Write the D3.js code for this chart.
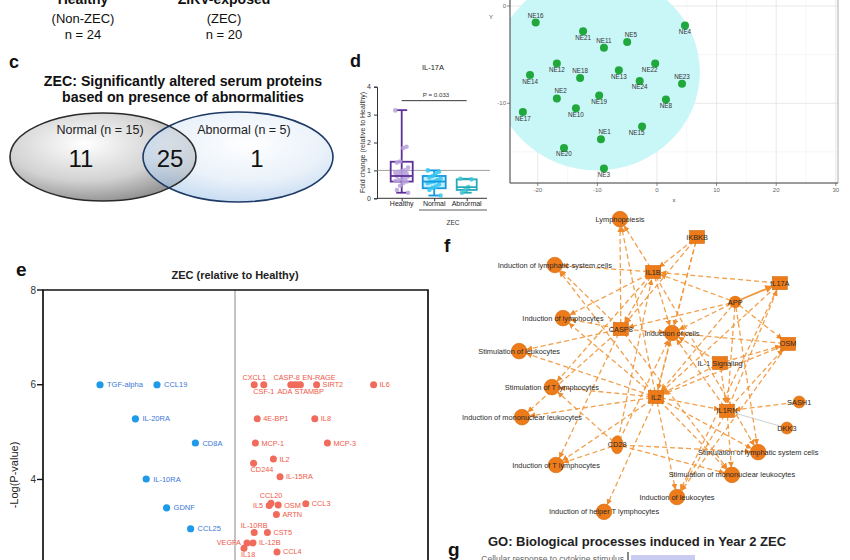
<!DOCTYPE html>
<html><head><meta charset="utf-8">
<script src="https://cdn.jsdelivr.net/npm/d3@7"></script>
<style>body{margin:0;background:#fff} svg{display:block;font-family:"Liberation Sans",Arial,sans-serif}</style>
</head><body><svg id="c" width="850" height="560"></svg>
<script>
// ---------- DATA ----------
// header groups
const groupNames = ["Healthy","ZIKV-exposed"];
const groupSub = ["(Non-ZEC)","(ZEC)"];
const groupN = [24,20];
// Venn (panel c)
const vennSets = ["Normal","Abnormal"];
const vennSetN = [15,5];
const vennCounts = [11,25,1]; // only-normal, both, only-abnormal
// Box plot (panel d) IL-17A
const boxGroups = ["Healthy","Normal","Abnormal"];
const boxStats = [[0.2,0.6,0.8,1.31,3.16],[0.1,0.36,0.6,0.8,1.0],[0.2,0.3,0.4,0.68,0.7]];
const healthyPts = [3.15,1.85,1.8,1.32,1.28,1.1,1.0,0.98,0.95,0.92,0.9,0.88,0.85,0.8,0.78,0.72,0.68,0.65,0.62,0.6,0.55,0.45,0.3,0.2];
const normalPts = [1.0,0.95,0.88,0.8,0.75,0.7,0.65,0.6,0.58,0.55,0.5,0.42,0.38,0.3,0.1];
const abnormalPts = [0.7,0.68,0.4,0.3,0.2];
const boxYTicks = [0,1,2,3,4];
const pValueText = "P = 0.033";
const pValueY = 3.5;
// PCA scatter
const pcaLabels = ["NE16","NE21","NE11","NE5","NE4","NE12","NE13","NE22","NE14","NE18","NE24","NE23","NE2","NE19","NE8","NE17","NE10","NE15","NE1","NE20","NE3"];
const pcaX = [-20.35,-12.4,-8.9,-5.0,4.7,-16.8,-6.4,-0.3,-21.3,-12.9,-2.9,4.2,-16.8,-9.7,1.5,-22.5,-13.6,-2.5,-9.4,-15.6,-8.9];
const pcaY = [-1.7,-2.6,-4.3,-3.7,-2.0,-5.9,-6.6,-5.9,-7.1,-7.4,-7.7,-8.0,-9.5,-9.2,-9.6,-10.9,-10.5,-12.4,-13.7,-14.6,-16.7];
const pcaXTicks = [-20,-10,0,10,20,30];
const pcaYTicks = [0,-10];
const pcaEllipse = [-10.1,-6.8,17.3,10.1]; // cx, cy, rx, ry (data units)
// Volcano (panel e)
const downGenes = ["TGF-alpha","CCL19","IL-20RA","CD8A","IL-10RA","GDNF","CCL25"];
const downFC = [-2.25,-1.30,-1.66,-0.66,-1.48,-1.14,-0.74];
const downLogP = [6.0,6.0,5.28,4.77,4.01,3.40,2.96];
const upGenes = ["CXCL1","CSF-1","CASP-8","ADA","STAMBP","EN-RAGE","SIRT2","IL6","4E-BP1","IL8","MCP-1","MCP-3","IL2","CD244","IL-15RA","CCL20","IL5","OSM","CCL3","ARTN","IL-10RB","CST5","VEGFA","IL-12B","IL18","CCL4"];
const upFC = [0.32,0.48,0.93,0.99,1.04,1.09,1.36,2.31,0.37,1.33,0.34,1.54,0.64,0.31,0.75,0.60,0.57,0.72,1.18,0.69,0.32,0.54,0.20,0.30,0.15,0.70];
const upLogP = [6.0,6.0,6.0,6.0,6.0,6.0,6.0,6.0,5.28,5.28,4.77,4.77,4.43,4.34,4.06,3.50,3.45,3.46,3.49,3.26,2.88,2.88,2.66,2.66,2.55,2.47];
const volcanoYTicks = [8,6,4];
// Network (panel f) — layout coordinates in a 0..100 space
const netIds = ["LP","IKBKB","ILSC","IL1B","IL17A","APP","IOL","CASP8","IOC","OSM","SOL","IL1S","STL","IL2","SASH1","IL1RN","IML","DKK3","CD28","SLSC","ITL","SML","IOLk","IHTL"];
const netLabels = ["Lymphopoiesis","IKBKB","Induction of lymphatic-system cells","IL1B","IL17A","APP","Induction of lymphocytes","CASP8","Induction of cells","OSM","Stimulation of leukocytes","IL-1 Signaling","Stimulation of T lymphocytes","IL2","SASH1","IL1RN","Induction of mononuclear leukocytes","DKK3","CD28","Stimulation of lymphatic system cells","Induction of T lymphocytes","Stimulation of mononuclear leukocytes","Induction of leukocytes","Induction of helper T lymphocytes"];
const netKind = ["f","p","f","p","p","h","f","p","f","p","f","p","f","p","c","p","f","c","e","f","f","f","f","f"];
const netX = [43.9,62.7,28.0,52.0,82.9,72.0,30.0,44.1,56.6,84.9,19.3,68.3,27.3,52.7,87.6,70.0,20.0,84.6,43.2,77.6,28.3,71.2,57.8,40.0];
const netY = [5.8,11.2,19.7,21.8,25.2,30.9,35.8,39.1,40.3,43.6,45.8,49.4,56.7,59.7,61.2,63.9,65.8,69.1,74.2,76.4,80.3,83.3,90.0,94.5];
const netEdges = [["IL1B","LP"],["IL1B","ILSC"],["IL1B","IOL"],["IL1B","IOC"],["IL1B","STL"],["IL1B","SLSC"],["IL1B","CASP8"],
["IKBKB","IL1B"],["IKBKB","IOC"],["IKBKB","IL2"],["IKBKB","CASP8"],
["IL17A","IL1B"],["IL17A","IL2"],["IL17A","IOLk"],
["APP","IL1B"],["APP","OSM"],["APP","CASP8"],["APP","IOC"],["APP","IL2"],["APP","IL1RN"],["APP","SLSC"],
["CASP8","LP"],["CASP8","ILSC"],["CASP8","IOL"],["CASP8","SOL"],["CASP8","IOC"],["CASP8","ITL"],["CASP8","IML"],["CASP8","SML"],
["IL2","LP"],["IL2","ILSC"],["IL2","STL"],["IL2","IML"],["IL2","ITL"],["IL2","IOC"],["IL2","IOLk"],["IL2","SLSC"],["IL2","SML"],["IL2","IHTL"],["IL2","IL1RN"],["IL2","SOL"],["IL2","IOL"],
["IL1S","IOC"],["IL1S","IL2"],["IL1S","OSM"],["IL1S","IL1RN"],
["IL1RN","IOC"],["IL1RN","IL17A"],["IL1RN","SML"],["IL1RN","IOLk"],["IL1RN","OSM"],
["SASH1","IL1RN"],
["CD28","ITL"],["CD28","STL"],["CD28","SML"],["CD28","IL1B"],["CD28","IOC"],["CD28","SLSC"],
["OSM","IOC"],["OSM","IL2"],["OSM","IOLk"]];
const netSolidEdges = [["APP","IL17A"]];
const netPlainEdges = [["DKK3","IL1RN"]];
// GO (panel g)
const goTerms = ["Cellular response to cytokine stimulus"];
const goValues = [3.2];

// ---------- HELPERS ----------
const svg = d3.select("#c");
const FONT = '"Liberation Sans",Arial,sans-serif';
function txt(g, x, y, s, size, opt={}) {
  return g.append("text").attr("x",x).attr("y",y).text(s)
    .attr("font-size",size).attr("font-weight",opt.bold?"bold":"normal")
    .attr("text-anchor",opt.anchor||"middle").attr("fill",opt.fill||"#111");
}
function place(code){
  return ({r:[6,2.5,"start"],l:[-6,2.5,"end"],t:[0,-5,"middle"],b:[0,9,"middle"],
    tr:[-3,-5,"start"],tl:[3,-5,"end"],br:[-3,9,"start"],bl:[3,9,"end"],
    tL:[9,-5,"end"],tR:[2,-5,"start"],bL:[-2,9,"end"],bR:[-3,9,"start"]})[code];
}
const defs = svg.append("defs");

// ---------- HEADER ----------
const hdr = svg.append("g");
const hdrX = d3.scalePoint().domain(groupNames).range([83,224]);
groupNames.forEach((g,i)=>{
  txt(hdr,hdrX(g),4,g,14,{bold:true});
  txt(hdr,hdrX(g),23,groupSub[i],13);
  txt(hdr,hdrX(g),39,"n = "+groupN[i],13);
});

// ---------- PANEL C: VENN ----------
const gc = svg.append("g");
txt(gc,9,68,"c",18,{bold:true,anchor:"start"});
txt(gc,183,86,"ZEC: Significantly altered serum proteins",14.2,{bold:true});
txt(gc,183,102,"based on presence of abnormalities",14.2,{bold:true});
const g1 = defs.append("radialGradient").attr("id","gGrey").attr("cx","40%").attr("cy","35%").attr("r","70%");
g1.append("stop").attr("offset","0%").attr("stop-color","#ffffff");
g1.append("stop").attr("offset","60%").attr("stop-color","#d2d2d2");
g1.append("stop").attr("offset","100%").attr("stop-color","#8c8c8c");
const g2 = defs.append("radialGradient").attr("id","gBlue").attr("cx","55%").attr("cy","35%").attr("r","70%");
g2.append("stop").attr("offset","0%").attr("stop-color","#ffffff");
g2.append("stop").attr("offset","60%").attr("stop-color","#dbe8f6");
g2.append("stop").attr("offset","100%").attr("stop-color","#9ec2e8");
const vennX = d3.scaleLinear().domain([0,1]).range([103,238]);
const ell = [{cx:vennX(0),rx:93,ry:44},{cx:vennX(1),rx:95,ry:45}];
gc.append("ellipse").attr("cx",ell[0].cx).attr("cy",157).attr("rx",ell[0].rx).attr("ry",ell[0].ry).attr("fill","url(#gGrey)");
gc.append("ellipse").attr("cx",ell[1].cx).attr("cy",157).attr("rx",ell[1].rx).attr("ry",ell[1].ry).attr("fill","url(#gBlue)").attr("fill-opacity",0.62);
gc.append("ellipse").attr("cx",ell[0].cx).attr("cy",157).attr("rx",ell[0].rx).attr("ry",ell[0].ry).attr("fill","none").attr("stroke","#2a2a2a").attr("stroke-width",1.6);
gc.append("ellipse").attr("cx",ell[1].cx).attr("cy",157).attr("rx",ell[1].rx).attr("ry",ell[1].ry).attr("fill","none").attr("stroke","#1e3a66").attr("stroke-width",1.6);
txt(gc,100,134,vennSets[0]+" (n = "+vennSetN[0]+")",12.5,{fill:"#222"});
txt(gc,244,134,vennSets[1]+" (n = "+vennSetN[1]+")",12.5,{fill:"#222"});
const numX = [81,170,257];
vennCounts.forEach((v,i)=>txt(gc,numX[i],167,v,24,{fill:"#111"}));

// ---------- PANEL D: BOX PLOT ----------
const gd = svg.append("g");
txt(gd,350,67,"d",18,{bold:true,anchor:"start"});
txt(gd,433,70,"IL-17A",7.5,{fill:"#222"});
const by = d3.scaleLinear().domain([0,4]).range([198.3,86.7]);
const bx = d3.scalePoint().domain(boxGroups).range([401.7,466.7]);
const yAx = gd.append("g").attr("transform","translate(377,0)").call(d3.axisLeft(by).tickValues(boxYTicks).tickSize(3).tickFormat(d3.format("d")));
yAx.selectAll("text").attr("font-size",7).attr("fill","#333").attr("font-family",FONT);
yAx.selectAll("path,line").attr("stroke","#333");
const xAx = gd.append("g").attr("transform","translate(0,198.3)").call(d3.axisBottom(bx).tickSize(3).tickFormat(""));
xAx.select("path").attr("d","M377,0H487").attr("stroke","#333");
xAx.selectAll("line").attr("stroke","#333");
boxGroups.forEach(g=>txt(gd,bx(g),206,g,7,{fill:"#222"}));
gd.append("line").attr("x1",419).attr("x2",487).attr("y1",210).attr("y2",210).attr("stroke","#333").attr("stroke-width",0.8);
txt(gd,453,225,"ZEC",6.5,{fill:"#333"});
gd.append("text").attr("transform","translate(365,"+by(2)+") rotate(-90)").attr("text-anchor","middle")
  .attr("font-size",7).attr("fill","#333").text("Fold change (relative to Healthy)");
gd.append("line").attr("x1",377).attr("x2",490).attr("y1",by(1)).attr("y2",by(1)).attr("stroke","#888").attr("stroke-width",0.8);
gd.append("line").attr("x1",bx("Healthy")).attr("x2",bx("Abnormal")).attr("y1",by(pValueY)).attr("y2",by(pValueY)).attr("stroke","#222").attr("stroke-width",0.9);
txt(gd,436,by(pValueY)-4,pValueText,6.2,{fill:"#333"});
const boxCol = [["#5e2f95","#b7a0dc","none"],["#1597df","#32c6f2","#c4eefb"],["#26a9ba","#45c4d2","#ffffff"]];
const boxW = [22,23,20];
const pts = [healthyPts,normalPts,abnormalPts];
boxGroups.forEach((g,i)=>{
  const s = boxStats[i], cx = bx(g), w = boxW[i], c = boxCol[i];
  const bg = gd.append("g");
  bg.append("line").attr("x1",cx).attr("x2",cx).attr("y1",by(s[0])).attr("y2",by(s[4])).attr("stroke",c[0]).attr("stroke-width",1.8);
  [s[0],s[4]].forEach(v=>bg.append("line").attr("x1",cx-w/4).attr("x2",cx+w/4).attr("y1",by(v)).attr("y2",by(v)).attr("stroke",c[0]).attr("stroke-width",1.8));
  bg.append("rect").attr("x",cx-w/2).attr("y",by(s[3])).attr("width",w).attr("height",by(s[1])-by(s[3])).attr("fill",c[2]).attr("stroke",c[0]).attr("stroke-width",1.8);
  bg.selectAll("circle.p").data(pts[i]).join("circle").attr("cx",(d,j)=>cx+((j*7)%9-4)*1.6).attr("cy",d=>by(d)).attr("r",2.3).attr("fill",c[1]).attr("fill-opacity",0.85);
  bg.append("line").attr("x1",cx-w/2).attr("x2",cx+w/2).attr("y1",by(s[2])).attr("y2",by(s[2])).attr("stroke",c[0]).attr("stroke-width",1.8);
});

// ---------- PCA ----------
const gp = svg.append("g");
const px = d3.scaleLinear().domain([-24.66,30.37]).range([510,838]);
const py = d3.scaleLinear().domain([-18.2,0.62]).range([183,0]);
defs.append("clipPath").attr("id","pcaClip").append("rect").attr("x",510).attr("y",0).attr("width",328).attr("height",183);
[-15,-5,5,15,25].forEach(v=>gp.append("line").attr("x1",px(v)).attr("x2",px(v)).attr("y1",0).attr("y2",183).attr("stroke","#f2f2f2").attr("stroke-width",0.6));
[-5,-15].forEach(v=>gp.append("line").attr("x1",510).attr("x2",838).attr("y1",py(v)).attr("y2",py(v)).attr("stroke","#f0f0f0").attr("stroke-width",0.6));
pcaXTicks.forEach(v=>gp.append("line").attr("x1",px(v)).attr("x2",px(v)).attr("y1",0).attr("y2",183).attr("stroke","#e2e2e2").attr("stroke-width",0.8));
pcaYTicks.forEach(v=>gp.append("line").attr("x1",510).attr("x2",838).attr("y1",py(v)).attr("y2",py(v)).attr("stroke","#e2e2e2").attr("stroke-width",0.8));
gp.append("ellipse").attr("clip-path","url(#pcaClip)").attr("cx",px(pcaEllipse[0])).attr("cy",py(pcaEllipse[1]))
  .attr("rx",px(pcaEllipse[2])-px(0)).attr("ry",py(0)-py(pcaEllipse[3])).attr("fill","#c9f6f7");
gp.append("rect").attr("x",510).attr("y",-2).attr("width",328).attr("height",185).attr("fill","none").attr("stroke","#9a9a9a").attr("stroke-width",0.8);
gp.append("line").attr("x1",510).attr("x2",510).attr("y1",0).attr("y2",183).attr("stroke","#555").attr("stroke-width",0.9);
gp.append("line").attr("x1",510).attr("x2",838).attr("y1",183).attr("y2",183).attr("stroke","#555").attr("stroke-width",0.9);
pcaXTicks.forEach(v=>{gp.append("line").attr("x1",px(v)).attr("x2",px(v)).attr("y1",183).attr("y2",186).attr("stroke","#555").attr("stroke-width",0.7);
  txt(gp,px(v),192,v,6,{fill:"#666"});});
pcaYTicks.forEach(v=>{gp.append("line").attr("x1",507).attr("x2",510).attr("y1",py(v)).attr("y2",py(v)).attr("stroke","#555").attr("stroke-width",0.7);
  txt(gp,506,py(v)+2,v,6,{fill:"#666",anchor:"end"});});
txt(gp,674,202,"x",6,{fill:"#444"});
txt(gp,491,19,"Y",6,{fill:"#444"});
const pcaPlace = ["t","b","t","tr","b","b","b","bl","b","t","b","t","tr","b","b","b","b","bl","tr","b","b"];
pcaLabels.forEach((l,i)=>{
  gp.append("circle").attr("cx",px(pcaX[i])).attr("cy",py(pcaY[i])).attr("r",4).attr("fill","#20a83c");
  const p = place(pcaPlace[i]);
  txt(gp,px(pcaX[i])+p[0]*0.8,py(pcaY[i])+(p[1]>0?p[1]-0.5:p[1]),l,6.3,{fill:"#333",anchor:p[2]});
});

// ---------- PANEL E: VOLCANO ----------
const ge = svg.append("g");
txt(ge,16,276,"e",19,{bold:true,anchor:"start"});
txt(ge,235,279,"ZEC (relative to Healthy)",11,{bold:true,fill:"#222"});
const vx = d3.scaleLinear().domain([-3.2,3.2]).range([43,427]);
const vy = d3.scaleLinear().domain([2.3,8]).range([560,290]);
ge.append("line").attr("x1",vx(0)).attr("x2",vx(0)).attr("y1",290).attr("y2",560).attr("stroke","#888").attr("stroke-width",1);
ge.append("path").attr("d","M43,560V290H428V560").attr("fill","none").attr("stroke","#111").attr("stroke-width",1.7);
volcanoYTicks.forEach(v=>{ge.append("line").attr("x1",37).attr("x2",43).attr("y1",vy(v)).attr("y2",vy(v)).attr("stroke","#111").attr("stroke-width",1.4);
  txt(ge,36,vy(v)+3.5,v,10,{fill:"#333",anchor:"end"});});
ge.append("text").attr("transform","translate(18,475) rotate(-90)").attr("text-anchor","middle").attr("font-size",11).attr("fill","#222").text("-Log(P-value)");
downGenes.forEach((gname,i)=>{
  ge.append("circle").attr("cx",vx(downFC[i])).attr("cy",vy(downLogP[i])).attr("r",3.6).attr("fill","#1e9ae8");
  txt(ge,vx(downFC[i])+7,vy(downLogP[i])+2.6,gname,7.5,{fill:"#3a78d8",anchor:"start"});
});
const upPlace = ["t","b","tL","bL","bR","tR","r","r","r","r","r","r","r","br","r","t","l","r","r","r","t","r","l","r","br","r"];
upGenes.forEach((gname,i)=>{
  ge.append("circle").attr("cx",vx(upFC[i])).attr("cy",vy(upLogP[i])).attr("r",3.5).attr("fill","#f06b5c");
});
upGenes.forEach((gname,i)=>{
  const p = place(upPlace[i]);
  txt(ge,vx(upFC[i])+p[0],vy(upLogP[i])+p[1],gname,7.3,{fill:"#f05848",anchor:p[2]});
});

// ---------- PANEL F: NETWORK ----------
const gf = svg.append("g");
txt(gf,444,252,"f",19,{bold:true,anchor:"start"});
const nx = d3.scaleLinear().domain([0,100]).range([440,850]);
const ny = d3.scaleLinear().domain([0,100]).range([200,530]);
const nodes = netIds.map((id,i)=>({id,label:netLabels[i],kind:netKind[i],x:nx(netX[i]),y:ny(netY[i])}));
const byId = Object.fromEntries(nodes.map(n=>[n.id,n]));
defs.append("marker").attr("id","arr").attr("viewBox","0 0 10 10").attr("refX",9).attr("refY",5)
  .attr("markerWidth",4.5).attr("markerHeight",4.5).attr("orient","auto-start-reverse")
  .append("path").attr("d","M0,0L10,5L0,10z").attr("fill","#f08a2a");
function seg(a,b,shrink){
  const dx=b.x-a.x, dy=b.y-a.y, L=Math.hypot(dx,dy);
  return [a.x+dx*5/L, a.y+dy*5/L, b.x-dx*shrink/L, b.y-dy*shrink/L];
}
const eg = gf.append("g");
netEdges.forEach(([s,t])=>{
  const q = seg(byId[s],byId[t],8);
  eg.append("line").attr("x1",q[0]).attr("y1",q[1]).attr("x2",q[2]).attr("y2",q[3])
    .attr("stroke","#f0963a").attr("stroke-width",1.3).attr("stroke-dasharray","5,3").attr("stroke-opacity",0.9).attr("marker-end","url(#arr)");
});
netSolidEdges.forEach(([s,t])=>{
  const q = seg(byId[s],byId[t],8);
  eg.append("line").attr("x1",q[0]).attr("y1",q[1]).attr("x2",q[2]).attr("y2",q[3])
    .attr("stroke","#f0963a").attr("stroke-width",1.8).attr("marker-end","url(#arr)");
});
netPlainEdges.forEach(([s,t])=>{
  const q = seg(byId[s],byId[t],6);
  eg.append("line").attr("x1",q[0]).attr("y1",q[1]).attr("x2",q[2]).attr("y2",q[3]).attr("stroke","#c8c8c8").attr("stroke-width",0.9);
});
const ng = gf.append("g");
nodes.forEach(n=>{
  const col="#ee7b19", st="#d46a0c";
  if(n.kind==="f") ng.append("circle").attr("cx",n.x).attr("cy",n.y).attr("r",7.8).attr("fill",col).attr("stroke",st).attr("stroke-width",0.6);
  else if(n.kind==="c") ng.append("circle").attr("cx",n.x).attr("cy",n.y).attr("r",6).attr("fill",col).attr("stroke",st).attr("stroke-width",0.6);
  else if(n.kind==="e") ng.append("ellipse").attr("cx",n.x).attr("cy",n.y).attr("rx",6).attr("ry",9).attr("fill",col).attr("stroke",st).attr("stroke-width",0.6);
  else if(n.kind==="h") ng.append("path").attr("d",d3.symbol(d3.symbolCircle,120)()).attr("transform",`translate(${n.x},${n.y})`).attr("fill",col);
  else ng.append("rect").attr("x",n.x-7.5).attr("y",n.y-6.5).attr("width",15).attr("height",13).attr("fill",col).attr("stroke",st).attr("stroke-width",0.6);
});
nodes.forEach(n=>{
  txt(ng,n.x,n.y+2.6,n.label,7.4,{fill:"#2a2a2a"});
});

// ---------- PANEL G ----------
const gg = svg.append("g");
txt(gg,448,556,"g",19,{bold:true,anchor:"start"});
txt(gg,637,546,"GO: Biological processes induced in Year 2 ZEC",13,{bold:true,fill:"#222"});
const gxs = d3.scaleLinear().domain([0,10]).range([630,830]);
const gys = d3.scaleBand().domain(goTerms).range([554,574]);
goTerms.forEach((t,i)=>{
  gg.append("rect").attr("x",gxs(0)+1).attr("y",gys(t)+1).attr("width",gxs(goValues[i])-gxs(0)).attr("height",10).attr("fill","#c9cbf2");
  txt(gg,624,gys(t)+8,t,8.5,{fill:"#666",anchor:"end"});
});
gg.append("line").attr("x1",628).attr("x2",628).attr("y1",552).attr("y2",560).attr("stroke","#111").attr("stroke-width",1);
</script></body></html>
